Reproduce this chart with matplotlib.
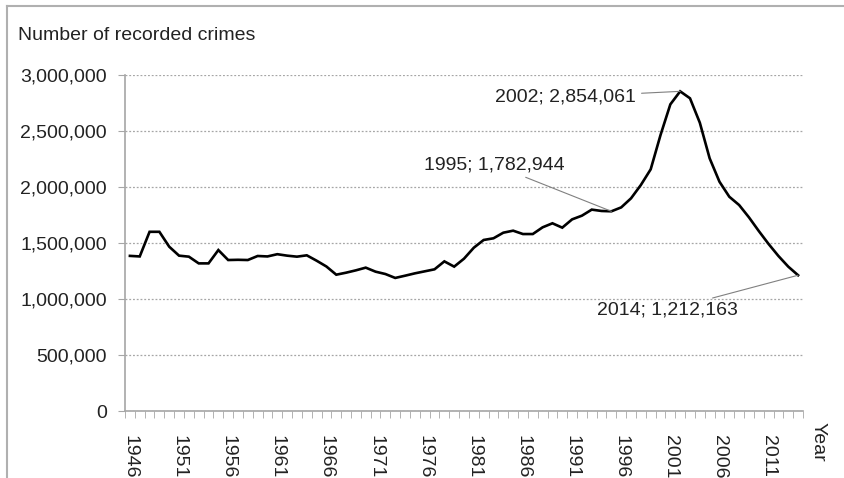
import matplotlib.pyplot as plt
import matplotlib.ticker as mticker
from matplotlib.lines import Line2D

plt.rcParams['font.family'] = ['Liberation Sans', 'DejaVu Sans']

years = list(range(1946, 2015))
crimes = [
    1385000, 1380000, 1600000, 1600000, 1467000, 1387000, 1378000, 1318000, 1318000, 1437000,
    1348000, 1350000, 1348000, 1384000, 1380000, 1400000, 1387000, 1378000, 1390000, 1342000,
    1290000, 1217000, 1235000, 1256000, 1280000, 1244000, 1223000, 1188000, 1208000, 1229000,
    1247000, 1265000, 1336000, 1289000, 1360000, 1458000, 1527000, 1542000, 1592000, 1610000,
    1580000, 1580000, 1640000, 1676000, 1637000, 1711000, 1744000, 1798000, 1786000, 1782944,
    1818000, 1899000, 2018000, 2158000, 2464000, 2738000, 2854061, 2792000, 2574000, 2256000,
    2047000, 1913000, 1839000, 1729000, 1607000, 1491000, 1384000, 1289000, 1212163,
]
label_years = list(range(1946, 2015, 5))
notes = [1995, 2002, 2014]
note_text = [(565, 165), (636, 97), (738, 310)]  # pixel position of text end

W, H = 845, 478
fig = plt.figure(figsize=(W / 100, H / 100), dpi=100)
ax = fig.add_axes([125 / W, 1 - 411 / H, (803 - 125) / W, (411 - 75) / H])

ax.plot(years, crimes, color='black', lw=1.9, solid_joinstyle='miter')

gray = '#a6a6a6'
ax.set_xlim(1945.5, 2014.5)
ax.set_ylim(0, 3000000)
ax.yaxis.set_major_locator(mticker.MultipleLocator(500000))
ax.yaxis.set_major_formatter(mticker.FuncFormatter(lambda v, p: f'{int(v):,}'))
ax.grid(axis='y', color=gray, linestyle=(0, (1.5, 1.5)), lw=0.9)
ax.set_axisbelow(True)

ax.set_xticks(label_years)
ax.set_xticklabels([str(y) for y in label_years], rotation=270, va='top', ha='center')
ax.set_xticks([y - 0.5 for y in years] + [2014.5], minor=True)
ax.tick_params(axis='x', which='major', length=0, pad=17, labelsize=14, colors='#222222')
ax.tick_params(axis='x', which='minor', length=5, color=gray)
ax.tick_params(axis='y', length=5, color=gray, labelsize=14, labelcolor='#222222', pad=8)

for s in ['top', 'right']:
    ax.spines[s].set_visible(False)
for s in ['left', 'bottom']:
    ax.spines[s].set_color(gray)
    ax.spines[s].set_linewidth(1.2)

# annotations with leader lines
for yr, (tx, ty) in zip(notes, note_text):
    v = crimes[years.index(yr)]
    ax.annotate(f'{yr}; {v:,}', xy=(yr, v), xycoords='data',
                xytext=(tx / W, 1 - ty / H), textcoords='figure fraction',
                ha='right', va='center', fontsize=14, color='#222222',
                arrowprops=dict(arrowstyle='-', color='#808080', lw=0.8,
                                shrinkA=2, shrinkB=0))

fig.text(18 / W, 1 - 35 / H, 'Number of recorded crimes', fontsize=14,
         color='#222222', ha='left', va='center')
fig.text(818 / W, 1 - 422 / H, 'Year', fontsize=14, color='#222222',
         rotation=270, ha='center', va='top')

# outer frame (top and left edges)
fig.add_artist(Line2D([7 / W, 7 / W], [0, 1 - 6 / H], color='#b0b0b0', lw=1.5))
fig.add_artist(Line2D([7 / W, 1], [1 - 6 / H, 1 - 6 / H], color='#b0b0b0', lw=1.5))

fig.savefig('out.png', dpi=100)
